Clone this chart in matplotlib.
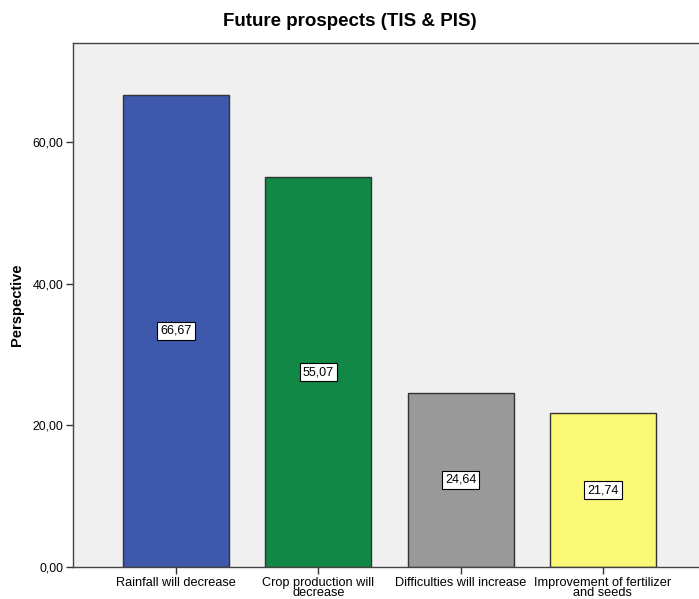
import matplotlib
matplotlib.use("Agg")
import matplotlib.pyplot as plt

plt.rcParams['font.family'] = ['Liberation Sans', 'DejaVu Sans']

categories = ["Rainfall will decrease", "Crop production will\ndecrease",
              "Difficulties will increase", "Improvement of fertilizer\nand seeds"]
values = [66.67, 55.07, 24.64, 21.74]
value_labels = ["66,67", "55,07", "24,64", "21,74"]
colors = ["#3E58AC", "#118845", "#999999", "#FBF875"]
yticks = [0, 20, 40, 60]
ytick_labels = ["0,00", "20,00", "40,00", "60,00"]

fig = plt.figure(figsize=(6.99, 5.99), dpi=100)
ax = fig.add_axes([73/699, 32/599, 633/699, 524/599])
ax.set_facecolor("#F0F0F0")

x = list(range(len(categories)))
ax.bar(x, values, width=0.746, color=colors, edgecolor="#333333", linewidth=1.0, zorder=2)

for xi, v, lab in zip(x, values, value_labels):
    ax.text(xi, v / 2, lab, ha="center", va="center", fontsize=9, zorder=3,
            bbox=dict(boxstyle="square,pad=0.25", facecolor="white", edgecolor="black", linewidth=0.8))

ax.set_xlim(-0.725, 3.725)
ax.set_ylim(0, 74)
ax.set_xticks(x)
ax.set_xticklabels(categories, fontsize=9.2, linespacing=0.85)
ax.set_yticks(yticks)
ax.set_yticklabels(ytick_labels, fontsize=8.8)
ax.tick_params(axis="both", direction="out", length=5, width=1, color="#333333", pad=2)

for side in ["left", "bottom", "top"]:
    ax.spines[side].set_color("#444444")
    ax.spines[side].set_linewidth(1.0)
ax.spines["right"].set_visible(False)

ax.set_ylabel("Perspective", fontsize=10.5, fontweight="bold", labelpad=6)
fig.text(350/699, 1 - 22/599, "Future prospects (TIS & PIS)", ha="center", va="center",
         fontsize=13.5, fontweight="bold")

fig.savefig("out.png", dpi=100)
